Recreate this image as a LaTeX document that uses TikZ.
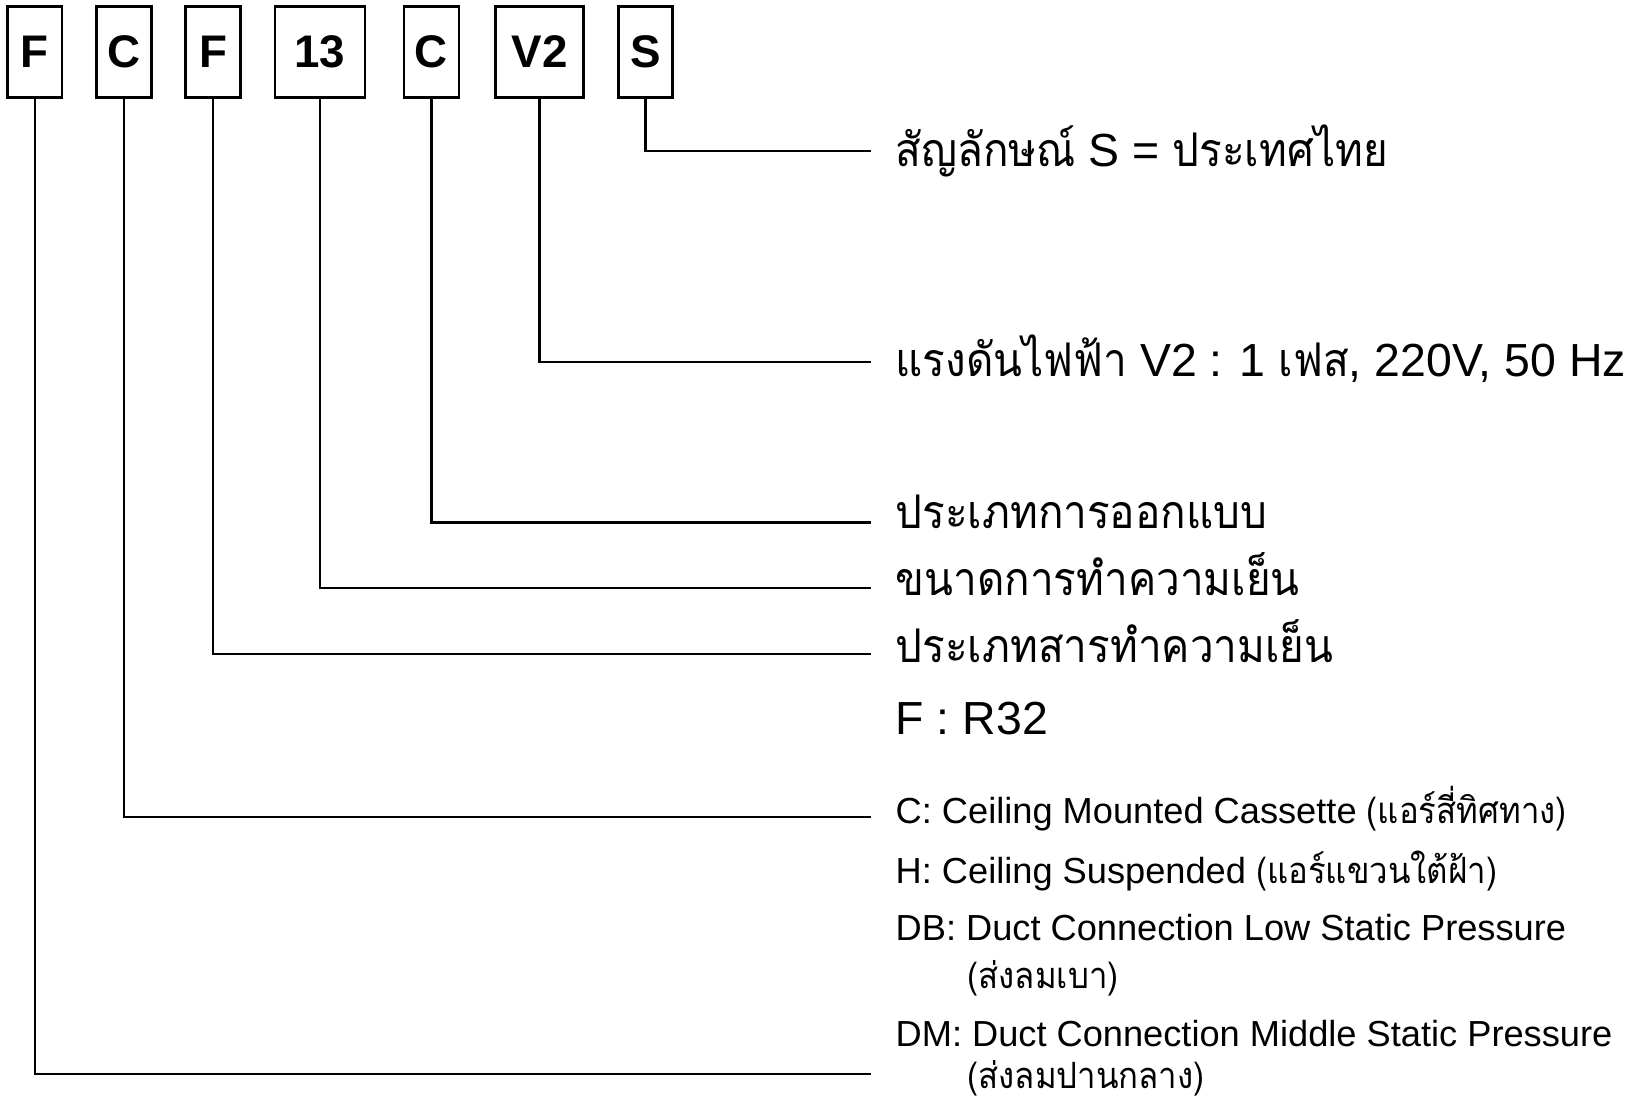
\documentclass[tikz,border=0pt]{standalone}
\usepackage{fontspec}
\setmainfont{Liberation Sans}
\newfontfamily\thaifont[Script=Thai,FakeStretch=0.91]{Loma}
\usetikzlibrary{positioning,calc}

\begin{document}
\begin{tikzpicture}[x=0.01cm,y=-0.01cm,
    codebox/.style={draw,line width=0.75pt,inner sep=0pt,minimum height=0.906cm,
                    font=\fontsize{13pt}{13pt}\selectfont\bfseries},
    lead/.style={line width=0.6pt},
    bigtxt/.style={anchor=base west,inner sep=0pt,font=\fontsize{13.2pt}{14pt}\selectfont},
    smalltxt/.style={anchor=base west,inner sep=0pt,font=\fontsize{10.3pt}{12pt}\selectfont}]
  \useasboundingbox (0,0) rectangle (1632,1099);
  % model code boxes
  \node[codebox,minimum width=0.547cm] (bF)  at (34.7,52)  {F};
  \node[codebox,minimum width=0.55cm]  (bC)  at (124.2,52) {C};
  \node[codebox,minimum width=0.55cm]  (bR)  at (213.2,52) {F};
  \node[codebox,minimum width=0.90cm]  (b13) at (320,52)   {13};
  \node[codebox,minimum width=0.55cm]  (bD)  at (431.5,52) {C};
  \node[codebox,minimum width=0.88cm]  (bV)  at (539.5,52) {V2};
  \node[codebox,minimum width=0.544cm] (bS)  at (645.5,52) {S};
  % explanations
  \node[bigtxt] (tS) at (895,166.5)
    {{\thaifont สัญลักษณ์} S = {\thaifont ประเทศไทย}};
  \node[bigtxt] (tV) at (895,376.8)
    {{\thaifont แรงดันไฟฟ้า} V2 : 1 {\thaifont เฟส}, 220V, 50 Hz};
  \node[bigtxt] (tD) at (895,528.7) {\thaifont ประเภทการออกแบบ};
  \node[bigtxt] (t13) at (895,595.3) {\thaifont ขนาดการทำความเย็น};
  \node[bigtxt] (tR) at (895,662) {\thaifont ประเภทสารทำความเย็น};
  \node[bigtxt] (tR32) at (895,734.8) {F : R32};
  \node[smalltxt] (tC) at (895,823.3)
    {C: Ceiling Mounted Cassette {\thaifont (แอร์สี่ทิศทาง)}};
  \node[smalltxt] (tH) at (895,883.6)
    {H: Ceiling Suspended {\thaifont (แอร์แขวนใต้ฝ้า)}};
  \node[smalltxt] (tDB) at (895,940.9) {DB: Duct Connection Low Static Pressure};
  \node[smalltxt] (tDBt) at (967,988.8) {\thaifont (ส่งลมเบา)};
  \node[smalltxt] (tDM) at (895,1046) {DM: Duct Connection Middle Static Pressure};
  \node[smalltxt] (tDMt) at (967,1088) {\thaifont (ส่งลมปานกลาง)};
  % leader ends
  \coordinate (eS)  at (871,151);
  \coordinate (eV)  at (871,362);
  \coordinate (eD)  at (871,522.5);
  \coordinate (e13) at (871,588);
  \coordinate (eR)  at (871,653.6);
  \coordinate (eC)  at (871,817);
  \coordinate (eF)  at (871,1074);
  \draw[lead] (bS.south)  |- (eS);
  \draw[lead] (bV.south)  |- (eV);
  \draw[lead] (bD.south)  |- (eD);
  \draw[lead] (b13.south) |- (e13);
  \draw[lead] (bR.south)  |- (eR);
  \draw[lead] (bC.south)  |- (eC);
  \draw[lead] (bF.south)  |- (eF);
\end{tikzpicture}
\end{document}
